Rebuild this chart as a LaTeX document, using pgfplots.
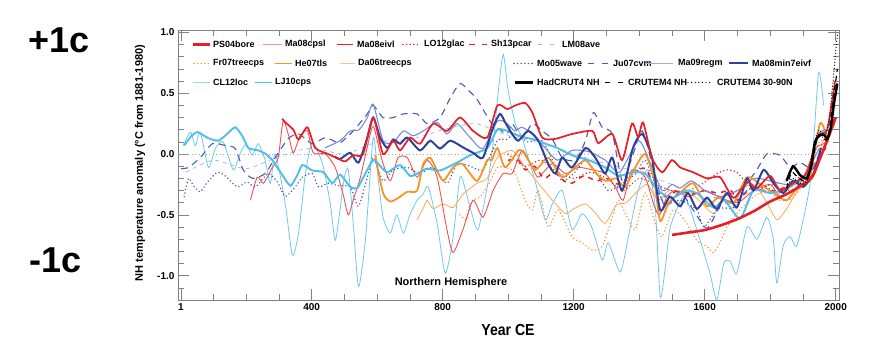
\documentclass[border=0pt]{standalone}
\usepackage{pgfplots}
\pgfplotsset{compat=1.18}
\usepackage{fontspec}
\setmainfont{Liberation Sans}
\usepackage{graphicx}
\definecolor{cRed}{RGB}{232,30,37}
\definecolor{cRedThin}{RGB}{240,80,80}
\definecolor{cPink}{RGB}{245,150,150}
\definecolor{cLtBlue}{RGB}{160,180,228}
\definecolor{cOrange}{RGB}{247,148,40}
\definecolor{cOrangeThin}{RGB}{248,170,90}
\definecolor{cBlue}{RGB}{60,80,175}
\definecolor{cBlueDash}{RGB}{75,90,190}
\definecolor{cRegm}{RGB}{120,140,215}
\definecolor{cDkBlue}{RGB}{45,65,155}
\definecolor{cCyanThin}{RGB}{110,200,240}
\definecolor{cCyan}{RGB}{80,190,235}
\definecolor{cFrame}{RGB}{130,130,130}
\begin{document}
\begin{tikzpicture}
\useasboundingbox (-178pt,-58pt) rectangle (714pt,300pt);
\begin{axis}[at={(0pt,0pt)}, anchor=south west, scale only axis,
  width=661pt, height=270pt,
  xmin=-8, xmax=2010, ymin=-1.2, ymax=1.02,
  xtick={1,400,800,1200,1600,2000},
  xticklabels={1,400,800,1200,1600,2000},
  minor xtick={100,200,300,500,600,700,900,1000,1100,1300,1400,1500,1700,1800,1900},
  ytick={-1,-0.5,0,0.5,1},
  yticklabels={-1.0,-0.5,0.0,0.5,1.0},
  minor ytick={-1.1,-0.9,-0.8,-0.7,-0.6,-0.4,-0.3,-0.2,-0.1,0.1,0.2,0.3,0.4,0.6,0.7,0.8,0.9},
  tick label style={font=\bfseries\fontsize{10}{12}\selectfont, black},
  major tick length=11pt, minor tick length=6pt,
  tick style={cFrame, line width=0.6pt},
  axis line style={cFrame, line width=0.8pt},
  every axis plot/.append style={smooth, tension=0.4},
]
% zero line
\addplot[sharp plot, color=black!35, line width=1pt, dash pattern=on 1pt off 2.5pt] coordinates {(-8,0) (2010,0)};

% LM08ave
\addplot[cLtBlue, line width=0.7pt, dash pattern=on 4pt off 4pt] coordinates {
(16,-0.15)(100,-0.05)(200,-0.12)(300,-0.02)(400,0.05)(500,0.0)(600,0.1)(700,0.12)(800,0.2)(900,0.25)(1000,0.15)(1100,0.1)(1200,0.0)(1300,-0.08)(1400,-0.15)(1500,-0.25)(1600,-0.35)(1700,-0.35)(1800,-0.25)(1900,-0.2)(1935,-0.1)};

% CL12loc
\addplot[cCyanThin, line width=0.8pt] coordinates {
(8,0.07)(30,0.18)(45,0.07)(60,0.18)(85,-0.11)(106,0.045)(130,0.1)(161,-0.13)(182,0.01)(200,0.08)(219,-0.01)(237,0.085)(258,-0.05)(274,-0.24)(289,0.0)(319,-0.4)(341,-0.83)(360,-0.65)(381,-0.16)(402,0.095)(433,-0.08)(457,-0.41)(472,-0.71)(487,-0.45)(500,-0.19)(512,-0.13)(527,-0.57)(543,-1.09)(564,-0.71)(588,0.135)(603,-0.2)(618,-0.52)(640,-0.65)(660,-0.5)(680,-0.65)(700,-0.5)(722,-0.38)(740,-0.33)(756,-0.27)(783,-0.57)(808,-0.98)(832,-0.68)(853,-0.19)(870,-0.3)(889,-0.49)(908,-0.62)(936,-0.27)(954,0.085)(970,0.52)(985,0.82)(1000,0.52)(1022,0.25)(1040,0.15)(1061,-0.03)(1085,-0.25)(1113,-0.54)(1135,-0.41)(1165,-0.3)(1195,-0.62)(1226,-0.49)(1255,-0.6)(1287,-0.87)(1306,-0.73)(1342,-0.97)(1367,-0.68)(1397,-0.3)(1427,-0.13)(1449,-0.44)(1464,-1.17)(1479,-0.95)(1495,-0.6)(1534,-0.35)(1555,-0.45)(1586,-0.71)(1616,-0.98)(1637,-1.2)(1658,-0.9)(1678,-0.88)(1698,-0.98)(1729,-0.6)(1760,-0.7)(1790,-0.52)(1810,-0.71)(1820,-1.06)(1840,-0.75)(1861,-0.68)(1880,-0.76)(1900,-0.55)(1922,-0.24)(1935,0.2)(1947,0.66)(1955,0.6)(1963,0.4)};

% Da06treecps
\addplot[cOrangeThin, line width=0.8pt] coordinates {
(722,-0.54)(740,-0.45)(753,-0.38)(771,-0.45)(800,-0.41)(832,-0.44)(862,-0.33)(905,-0.24)(936,-0.2)(967,-0.03)(1012,0.03)(1050,-0.1)(1092,-0.24)(1135,-0.38)(1175,-0.49)(1200,-0.45)(1236,-0.41)(1265,-0.48)(1296,-0.57)(1330,-0.42)(1360,-0.4)(1397,-0.3)(1425,-0.25)(1458,-0.38)(1490,-0.3)(1525,-0.32)(1570,-0.35)(1627,-0.49)(1660,-0.35)(1700,-0.3)(1750,-0.25)(1790,-0.4)(1820,-0.54)(1850,-0.45)(1890,-0.27)(1930,-0.2)(1960,0.1)(1985,0.2)};

% Fr07treecps
\addplot[cOrange, line width=1.6pt, line cap=round, dash pattern=on 0pt off 3.6pt] coordinates {
(853,-0.5)(874,-0.54)(884,-0.4)(914,-0.35)(940,-0.25)(967,-0.11)(991,-0.11)(1020,-0.15)(1052,-0.38)(1074,-0.46)(1092,-0.3)(1122,-0.6)(1153,-0.46)(1195,-0.68)(1226,-0.73)(1257,-0.79)(1287,-0.76)(1318,-0.52)(1336,-0.38)(1360,-0.5)(1388,-0.62)(1418,-0.32)(1449,-0.57)(1470,-0.68)(1503,-0.46)(1540,-0.55)(1576,-0.71)(1607,-0.76)(1627,-0.81)(1648,-0.72)(1668,-0.6)(1710,-0.45)(1750,-0.35)(1790,-0.3)(1830,-0.38)(1870,-0.36)(1910,-0.2)(1950,0.1)(1980,0.1)};

% Ma08cpsl
\addplot[cRedThin, line width=0.9pt] coordinates {
(213,-0.38)(234,-0.19)(253,-0.24)(280,-0.11)(298,-0.03)(313,0.27)(330,0.15)(344,0.01)(365,0.15)(387,0.19)(405,0.01)(442,0.0)(472,-0.11)(496,-0.33)(512,-0.5)(530,-0.35)(549,-0.19)(579,0.165)(590,0.22)(615,-0.05)(640,-0.22)(664,-0.03)(692,-0.03)(722,-0.19)(753,-0.05)(783,-0.19)(813,-0.62)(832,-0.81)(862,-0.62)(893,-0.38)(923,-0.52)(954,-0.3)(985,-0.16)(1012,-0.16)(1043,0.03)(1074,-0.11)(1092,-0.19)(1135,-0.08)(1175,-0.16)(1214,-0.11)(1257,-0.13)(1296,-0.16)(1327,-0.27)(1351,-0.38)(1378,-0.13)(1418,-0.19)(1445,-0.42)(1462,-0.5)(1485,-0.35)(1510,-0.3)(1550,-0.35)(1600,-0.3)(1650,-0.36)(1700,-0.4)(1750,-0.3)(1800,-0.25)(1830,-0.35)(1870,-0.3)(1900,-0.2)(1940,0.05)(1970,0.1)(1995,0.3)};

% LO12glac
\addplot[cRed, line width=1.6pt, line cap=round, dash pattern=on 0pt off 3.6pt] coordinates {
(1000,0.0)(1050,-0.1)(1100,-0.05)(1150,-0.15)(1200,-0.2)(1250,-0.15)(1300,-0.2)(1350,-0.3)(1400,-0.2)(1450,-0.25)(1500,-0.3)(1550,-0.3)(1595,-0.24)(1637,-0.16)(1668,-0.13)(1698,-0.15)(1729,-0.24)(1760,-0.3)(1800,-0.25)(1840,-0.3)(1880,-0.28)(1910,-0.2)(1935,-0.1)};

% Sh13pcar
\addplot[cRed, line width=1.5pt, dash pattern=on 5pt off 5pt] coordinates {
(1000,-0.05)(1031,-0.05)(1052,-0.13)(1080,-0.1)(1110,-0.2)(1140,-0.15)(1170,-0.22)(1195,-0.24)(1230,-0.18)(1270,-0.22)(1300,-0.2)(1340,-0.25)(1380,-0.15)(1420,-0.12)(1450,-0.3)(1480,-0.35)(1520,-0.3)(1560,-0.33)(1600,-0.3)(1640,-0.32)(1680,-0.3)(1700,-0.38)(1740,-0.28)(1780,-0.3)(1820,-0.3)(1860,-0.25)(1900,-0.2)(1940,-0.05)(1970,0.05)};

% Mo05wave
\addplot[cBlue, line width=1.6pt, line cap=round, dash pattern=on 0pt off 3.6pt] coordinates {
(11,-0.35)(24,-0.2)(39,-0.26)(60,-0.31)(82,-0.23)(112,-0.15)(136,-0.18)(173,-0.27)(203,-0.23)(228,-0.27)(268,-0.16)(298,-0.24)(319,-0.35)(350,-0.27)(372,-0.19)(402,-0.16)(421,-0.27)(451,-0.24)(482,-0.26)(518,-0.27)(543,-0.43)(570,-0.19)(588,-0.03)(618,-0.22)(649,-0.13)(692,-0.11)(731,-0.16)(770,-0.11)(813,-0.24)(844,-0.08)(884,-0.1)(923,-0.13)(967,0.11)(995,0.12)(1022,0.165)(1060,0.1)(1104,0.11)(1135,-0.05)(1165,-0.22)(1200,-0.16)(1236,-0.05)(1270,-0.16)(1306,-0.3)(1350,-0.24)(1390,-0.16)(1418,-0.05)(1449,-0.25)(1479,-0.41)(1525,-0.38)(1576,-0.46)(1598,-0.6)(1640,-0.45)(1688,-0.44)(1720,-0.32)(1770,-0.25)(1830,-0.32)(1880,-0.2)(1922,-0.16)(1960,0.05)(1980,0.1)};

% Ju07cvm
\addplot[cBlueDash, line width=1.1pt, dash pattern=on 7pt off 5pt] coordinates {
(1,-0.12)(24,-0.11)(60,-0.03)(97,0.085)(136,0.07)(167,0.045)(191,-0.13)(220,-0.2)(258,-0.16)(289,-0.03)(328,0.125)(360,0.165)(402,0.085)(442,0.135)(482,0.09)(496,0.11)(527,0.19)(570,0.33)(588,0.4)(618,0.3)(649,0.3)(680,0.33)(722,0.33)(753,0.25)(792,0.3)(823,0.46)(853,0.58)(880,0.52)(905,0.45)(945,0.27)(975,0.2)(997,0.165)(1012,0.25)(1043,0.135)(1074,0.25)(1104,0.19)(1135,0.12)(1165,-0.03)(1205,-0.05)(1236,0.11)(1260,0.34)(1287,0.22)(1318,0.165)(1348,-0.22)(1378,-0.03)(1409,0.19)(1439,-0.08)(1470,-0.38)(1485,-0.43)(1525,-0.31)(1565,-0.46)(1607,-0.61)(1647,-0.43)(1688,-0.38)(1729,-0.24)(1759,-0.13)(1790,0.0)(1830,-0.01)(1861,-0.11)(1891,-0.07)(1930,-0.12)(1960,0.05)};

% Ma09regm
\addplot[cRegm, line width=1.1pt] coordinates {
(440,0.05)(487,0.11)(518,0.19)(545,0.2)(570,0.3)(588,0.41)(618,0.11)(649,0.095)(680,0.19)(710,0.15)(741,0.19)(783,0.26)(813,0.165)(844,0.25)(884,0.135)(923,0.045)(967,0.27)(997,0.25)(1020,0.19)(1043,0.22)(1080,0.15)(1113,0.05)(1150,-0.05)(1195,0.03)(1245,0.02)(1296,-0.05)(1340,-0.15)(1397,0.11)(1430,-0.05)(1470,-0.3)(1500,-0.25)(1525,-0.28)(1560,-0.22)(1600,-0.3)(1650,-0.35)(1700,-0.3)(1750,-0.2)(1800,-0.22)(1850,-0.25)(1900,-0.2)(1950,0.05)};

% He07tls
\addplot[cOrange, line width=1.8pt] coordinates {
(594,-0.01)(618,-0.32)(640,-0.39)(665,-0.36)(692,-0.31)(722,-0.3)(741,-0.08)(762,-0.03)(780,-0.12)(802,-0.22)(832,-0.11)(860,-0.08)(905,-0.22)(936,-0.05)(950,-0.05)(967,0.05)(991,-0.11)(1031,0.03)(1050,0.0)(1083,-0.13)(1122,-0.03)(1165,-0.19)(1200,-0.12)(1236,-0.05)(1266,-0.15)(1296,-0.22)(1330,-0.2)(1357,-0.27)(1390,-0.1)(1418,0.0)(1445,-0.2)(1464,-0.55)(1490,-0.4)(1525,-0.32)(1565,-0.24)(1607,-0.43)(1640,-0.36)(1688,-0.4)(1729,-0.19)(1770,-0.25)(1810,-0.32)(1850,-0.38)(1890,-0.25)(1920,-0.2)(1952,0.25)(1975,0.15)(1995,0.25)};

% LJ10cps
\addplot[cCyan, line width=1.9pt] coordinates {
(11,0.07)(30,0.14)(51,0.18)(85,0.13)(115,0.11)(140,0.16)(167,0.22)(190,0.14)(207,0.05)(237,0.03)(260,0.0)(280,-0.05)(310,-0.17)(335,-0.26)(355,-0.18)(372,-0.09)(402,-0.135)(436,-0.15)(463,-0.24)(487,-0.17)(518,-0.27)(539,-0.28)(560,-0.18)(588,-0.05)(610,-0.1)(631,-0.15)(670,-0.09)(701,-0.18)(730,-0.15)(753,-0.12)(792,-0.135)(844,-0.07)(884,-0.01)(936,0.05)(967,0.2)(997,0.19)(1022,0.16)(1052,0.135)(1080,0.12)(1113,0.085)(1150,0.05)(1195,-0.01)(1245,-0.05)(1296,-0.11)(1337,-0.18)(1378,-0.15)(1418,-0.16)(1458,-0.3)(1500,-0.36)(1546,-0.3)(1580,-0.33)(1627,-0.44)(1660,-0.38)(1708,-0.53)(1749,-0.3)(1801,-0.32)(1853,-0.28)(1914,-0.16)(1945,0.15)(1970,0.2)};

% Ma08min7eivf
\addplot[cDkBlue, line width=2pt] coordinates {
(470,-0.02)(487,-0.04)(518,0.01)(543,-0.07)(570,0.135)(588,0.3)(609,0.135)(631,0.05)(649,0.12)(670,0.085)(692,0.135)(731,0.03)(762,0.11)(792,0.045)(823,0.11)(862,0.055)(893,0.01)(923,-0.03)(954,0.22)(975,0.33)(991,0.26)(1012,0.165)(1031,0.11)(1061,0.19)(1092,0.11)(1122,-0.08)(1144,-0.16)(1165,-0.03)(1195,-0.11)(1236,0.05)(1266,-0.03)(1296,-0.16)(1318,-0.03)(1348,-0.3)(1381,0.05)(1409,0.165)(1439,-0.03)(1464,-0.46)(1494,-0.35)(1525,-0.43)(1549,-0.32)(1576,-0.45)(1607,-0.36)(1637,-0.45)(1668,-0.32)(1698,-0.44)(1729,-0.2)(1749,-0.3)(1780,-0.13)(1810,-0.24)(1840,-0.32)(1870,-0.22)(1901,-0.27)(1932,-0.16)(1955,0.05)};

% Ma08eivl
\addplot[cRed, line width=1.7pt] coordinates {
(310,0.29)(320,0.26)(344,0.2)(360,0.12)(387,0.22)(411,0.05)(451,0.0)(482,-0.04)(503,-0.06)(527,-0.01)(557,0.0)(588,0.3)(618,0.0)(649,0.11)(670,0.03)(701,0.135)(731,0.085)(771,0.25)(813,0.19)(853,0.3)(893,0.19)(936,0.135)(967,0.4)(997,0.37)(1022,0.4)(1052,0.42)(1074,0.34)(1104,0.135)(1144,0.125)(1195,0.165)(1257,0.19)(1275,0.09)(1318,0.165)(1348,-0.05)(1378,0.25)(1397,0.14)(1412,0.26)(1439,-0.03)(1470,-0.15)(1500,-0.05)(1525,-0.11)(1565,-0.15)(1607,-0.2)(1647,-0.19)(1688,-0.36)(1729,-0.23)(1759,-0.28)(1800,-0.18)(1830,-0.3)(1870,-0.24)(1913,-0.15)(1944,0.15)(1974,0.2)(1998,0.6)};

% PS04bore
\addplot[cRed, line width=2.6pt] coordinates {
(1500,-0.665)(1550,-0.645)(1600,-0.625)(1650,-0.585)(1700,-0.535)(1750,-0.47)(1800,-0.39)(1850,-0.33)(1900,-0.25)(1930,-0.18)(1950,-0.05)(1975,0.12)(2000,0.3)};

% CRUTEM4 30-90N
\addplot[black, line width=1.3pt, line cap=round, dash pattern=on 0pt off 3pt] coordinates {
(1850,-0.3)(1865,-0.2)(1880,-0.22)(1900,-0.25)(1915,-0.2)(1935,0.1)(1950,0.2)(1965,0.12)(1980,0.3)(1990,0.55)(2000,0.85)(2006,1.0)};
% CRUTEM4 NH
\addplot[black, line width=1.2pt, dash pattern=on 5pt off 4pt] coordinates {
(1850,-0.28)(1865,-0.15)(1880,-0.18)(1900,-0.22)(1915,-0.2)(1930,-0.05)(1945,0.15)(1960,0.15)(1975,0.12)(1990,0.4)(2005,0.7)};
% HadCRUT4 NH
\addplot[black, line width=2.4pt] coordinates {
(1850,-0.22)(1860,-0.15)(1870,-0.1)(1880,-0.13)(1890,-0.17)(1900,-0.19)(1912,-0.2)(1925,-0.1)(1937,0.1)(1950,0.15)(1963,0.16)(1975,0.13)(1985,0.22)(1995,0.42)(2005,0.58)};
\end{axis}

% legend
\begin{scope}[every node/.style={anchor=west, inner sep=0pt, text=black, font=\bfseries\fontsize{9}{10}\selectfont}]
% row 1
\draw[cRed, line width=2.6pt] (15pt,255.5pt) -- (32pt,255.5pt); \node at (35pt,255.5pt) {PS04bore};
\draw[cPink, line width=0.9pt] (85pt,255.5pt) -- (104pt,255.5pt); \node at (107pt,255.5pt) {Ma08cpsl};
\draw[cRed, line width=1.7pt] (159pt,255.5pt) -- (175pt,255.5pt); \node at (179pt,255.5pt) {Ma08eivl};
\draw[cRed, line width=1.6pt, line cap=round, dash pattern=on 0pt off 3.6pt] (225pt,255.5pt) -- (242pt,255.5pt); \node at (246pt,255.5pt) {LO12glac};
\draw[cRed, line width=1.5pt, dash pattern=on 6pt off 7pt] (291pt,255.5pt) -- (309pt,255.5pt); \node at (313pt,255.5pt) {Sh13pcar};
\draw[cLtBlue, line width=0.8pt, dash pattern=on 4pt off 8pt] (360pt,255.5pt) -- (380pt,255.5pt); \node at (384pt,255.5pt) {LM08ave};
% row 2
\draw[cOrange, line width=1.6pt, line cap=round, dash pattern=on 0pt off 3.6pt] (16pt,236.5pt) -- (32pt,236.5pt); \node at (35pt,236.5pt) {Fr07treecps};
\draw[cOrange, line width=1.8pt] (97pt,236.5pt) -- (114pt,236.5pt); \node at (117pt,236.5pt) {He07tls};
\draw[cOrangeThin!70!white, line width=0.9pt] (162pt,236.5pt) -- (177pt,236.5pt); \node at (180pt,236.5pt) {Da06treecps};
\draw[cBlue, line width=1.6pt, line cap=round, dash pattern=on 0pt off 3.6pt] (336pt,236.5pt) -- (355pt,236.5pt); \node at (359pt,236.5pt) {Mo05wave};
\draw[cBlueDash, line width=1.2pt, dash pattern=on 6pt off 8pt] (410pt,236.5pt) -- (432pt,236.5pt); \node at (435pt,236.5pt) {Ju07cvm};
\draw[cRegm!70!white, line width=1.1pt] (467pt,236.5pt) -- (495pt,236.5pt); \node at (500pt,236.5pt) {Ma09regm};
\draw[cDkBlue, line width=2pt] (551pt,236.5pt) -- (570pt,236.5pt); \node at (574pt,236.5pt) {Ma08min7eivf};
% row 3
\draw[cCyanThin!70!white, line width=0.9pt] (15pt,217.5pt) -- (32pt,217.5pt); \node at (35pt,217.5pt) {CL12loc};
\draw[cCyan, line width=1.9pt] (77pt,217.5pt) -- (94pt,217.5pt); \node at (97pt,217.5pt) {LJ10cps};
\draw[black, line width=2.4pt] (337pt,217.5pt) -- (355pt,217.5pt); \node at (359pt,217.5pt) {HadCRUT4 NH};
\draw[black, line width=1.2pt, dash pattern=on 5pt off 8pt] (427pt,217.5pt) -- (446pt,217.5pt); \node at (450pt,217.5pt) {CRUTEM4 NH};
\draw[black, line width=1.3pt, line cap=round, dash pattern=on 0pt off 3.6pt] (510pt,217.5pt) -- (533pt,217.5pt); \node at (539pt,217.5pt) {CRUTEM4 30-90N};
\end{scope}

% texts
\node[font=\bfseries\fontsize{11}{13}\selectfont] at (273pt,17pt) {Northern Hemisphere};
\node[rotate=90, font=\bfseries\fontsize{11}{13}\selectfont] at (-38pt,137pt) {NH temperature anomaly (°C from 1881-1980)};
\node[font=\bfseries\fontsize{16}{18}\selectfont] at (330pt,-30pt) {\scalebox{0.88}[1]{Year CE}};
\node[anchor=base west, inner sep=0pt, font=\bfseries\fontsize{36}{40}\selectfont] at (-149.5pt,247pt) {+1c};
\node[anchor=base west, inner sep=0pt, font=\bfseries\fontsize{36}{40}\selectfont] at (-149pt,27pt) {-1c};
\end{tikzpicture}
\end{document}
